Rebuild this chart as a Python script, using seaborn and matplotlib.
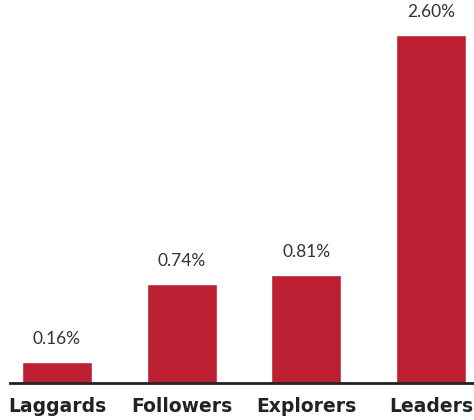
import matplotlib
matplotlib.use("Agg")
import matplotlib.pyplot as plt
import seaborn as sns
import pandas as pd

categories = ["Laggards", "Followers", "Explorers", "Leaders"]
values = [0.16, 0.74, 0.81, 2.60]
value_labels = ["0.16%", "0.74%", "0.81%", "2.60%"]

df = pd.DataFrame({"category": categories, "value": values})

sns.set_theme(style="white")
plt.rcParams['font.family'] = ['DejaVu Sans']

fig = plt.figure(figsize=(4.74, 4.20), dpi=100)
ax = fig.add_axes([10/474, 37/420, 464/474, 383/420])

sns.barplot(data=df, x="category", y="value", color="#BC1F31", width=0.56,
            saturation=1, ax=ax)

ax.set_xlim(-0.376, 3.344)
ax.set_ylim(0, 2.862)
for i, (v, lab) in enumerate(zip(values, value_labels)):
    ax.annotate(lab, (i, v), xytext=(0, 10.5), textcoords="offset points",
                ha="center", va="bottom", fontsize=12.5, color="#333333",
                family="Lato", fontweight="normal")

ax.set_xlabel("")
ax.set_ylabel("")
ax.set_yticks([])
ax.tick_params(axis="x", length=0, pad=10)
for t in ax.get_xticklabels():
    t.set_fontsize(13.5)
    t.set_fontweight("bold")
    t.set_color("#222222")
for s in ["top", "right", "left"]:
    ax.spines[s].set_visible(False)
ax.spines["bottom"].set_color("#222222")
ax.spines["bottom"].set_linewidth(2)

fig.savefig("out.png", dpi=100)
